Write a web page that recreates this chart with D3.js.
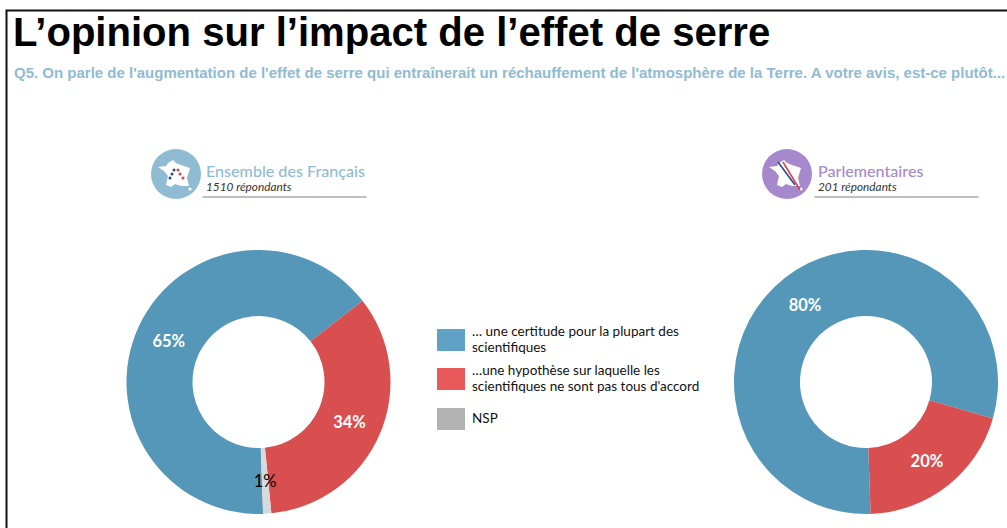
<!DOCTYPE html>
<html>
<head>
<meta charset="utf-8">
<script src="https://d3js.org/d3.v7.min.js"></script>
<style>
  body { margin: 0; background: #fff; }
  svg { display: block; }
  text { font-family: "Lato", "Open Sans", sans-serif; }
</style>
</head>
<body>
<div id="my_dataviz"></div>
<script>

var categories = ["certitude", "hypothese", "nsp"];
var francais = [65, 34, 1];
var parlementaires = [80, 20, 0];
var legendLabels = [
  ["… une certitude pour la plupart des", "scientifiques"],
  ["…une hypothèse sur laquelle les", "scientifiques ne sont pas tous d'accord"],
  ["NSP"]
];

var width = 1007, height = 528;
var sliceColor = d3.scaleOrdinal().domain(categories).range(["#5597b9", "#d94f4f", "#d9d9d9"]);
var swatchColor = d3.scaleOrdinal().domain(categories).range(["#5fa2c5", "#e85a5a", "#b2b2b2"]);
var labelColor = d3.scaleOrdinal().domain(categories).range(["#fff", "#fff", "#000"]);

var svg = d3.select("#my_dataviz")
  .append("svg")
    .attr("width", width)
    .attr("height", height);

// frame of the slide (runs off on the right and the bottom)
svg.append("path")
  .attr("d", "M6.5,528V10.5H1007")
  .attr("fill", "none")
  .attr("stroke", "#111")
  .attr("stroke-width", 2);

svg.append("text")
  .attr("x", 13).attr("y", 46)
  .style("font-family", "'Liberation Sans'")
  .style("font-weight", 700)
  .style("font-size", "40.1px")
  .attr("fill", "#000")
  .text("L’opinion sur l’impact de l’effet de serre");

svg.append("text")
  .attr("x", 14).attr("y", 78)
  .style("font-family", "'Liberation Sans'")
  .style("font-weight", 700)
  .style("font-size", "15px")
  .attr("fill", "#8fbbd3")
  .text("Q5. On parle de l'augmentation de l'effet de serre qui entraînerait un réchauffement de l'atmosphère de la Terre. A votre avis, est-ce plutôt...");

var pie = d3.pie().sort(null).startAngle(178 * Math.PI / 180).endAngle(538 * Math.PI / 180);
var arc = d3.arc().innerRadius(66).outerRadius(132);

function donut(values, cx, cy) {
  var g = svg.append("g").attr("transform", "translate(" + cx + "," + cy + ")");
  var slices = pie(values).filter(function(d) { return d.value > 0; });

  g.selectAll("path")
    .data(slices)
    .enter()
    .append("path")
    .attr("d", arc)
    .attr("fill", function(d) { return sliceColor(categories[d.index]); });

  g.selectAll("text")
    .data(slices)
    .enter()
    .append("text")
    .attr("transform", function(d) { return "translate(" + arc.centroid(d) + ")"; })
    .attr("text-anchor", "middle")
    .attr("dy", "0.4em")
    .style("font-size", "16.5px")
    .style("font-weight", function(d) { return d.index == 2 ? 400 : 700; })
    .attr("fill", function(d) { return labelColor(categories[d.index]); })
    .text(function(d) { return d.value + "%"; });
}

donut(francais, 258.5, 382);
donut(parlementaires, 866, 382);

// legend
var legendTop = [329, 368, 408];
var legend = svg.selectAll(".legendItem")
  .data(categories)
  .enter()
  .append("g")
    .attr("class", "legendItem")
    .attr("transform", function(d, i) { return "translate(437," + legendTop[i] + ")"; });

legend.append("rect")
  .attr("width", 28)
  .attr("height", 22)
  .attr("fill", function(d) { return swatchColor(d); });

legend.each(function(d, i) {
  d3.select(this).selectAll("text")
    .data(legendLabels[i])
    .enter()
    .append("text")
    .attr("x", 35)
    .attr("y", function(t, j) { return (i == 2 ? 14.5 : 6.5) + j * 16; })
    .style("font-size", "13.5px")
    .attr("fill", "#111")
    .text(function(t) { return t; });
});

// panel headers
var franceShape = "M-3,-14L0,-11L5,-9L14,-6L11,4L13,12L5,12L-1,10L-5,13L-10,11L-8,2L-12,-3L-18,-7L-10,-8L-8,-11Z";

function header(cx, color, name, count, textX, lineX) {
  var g = svg.append("g");
  g.append("circle").attr("cx", cx).attr("cy", 174).attr("r", 25).attr("fill", color);
  var map = g.append("g").attr("transform", "translate(" + cx + ",174)");
  map.append("path").attr("d", franceShape).attr("fill", "#fff");
  map.append("circle").attr("cx", 14).attr("cy", 15).attr("r", 1.6).attr("fill", "#fff");
  g.append("text").attr("x", textX).attr("y", 177)
    .style("font-size", "16.1px").style("font-weight", 500)
    .attr("fill", color).text(name);
  g.append("text").attr("x", textX).attr("y", 191)
    .style("font-size", "11.8px").style("font-style", "italic")
    .attr("fill", "#333").text(count);
  g.append("line")
    .attr("x1", lineX).attr("x2", lineX + 164)
    .attr("y1", 197).attr("y2", 197)
    .attr("stroke", "#aaa").attr("stroke-width", 1.5);
  return map;
}

var mapA = header(176, "#8fbbd3", "Ensemble des Français", "1510 répondants", 206, 202.5);
var mapB = header(787, "#a688cc", "Parlementaires", "201 répondants", 818, 814.5);

// small figures on the first map
[[-6, 4, "#2b4a8f"], [-4, 0, "#2b4a8f"], [-2, -4, "#2b4a8f"], [2, -4, "#d9434e"], [4, 0, "#d9434e"], [7, 4, "#d9434e"]].forEach(function(p) {
  mapA.append("circle").attr("cx", p[0]).attr("cy", p[1]).attr("r", 1.5).attr("fill", p[2]);
});

// tricolour stripes on the second map
mapB.append("line").attr("x1", -9).attr("y1", -12).attr("x2", 8).attr("y2", 11)
  .attr("stroke", "#2b4a8f").attr("stroke-width", 1.6);
mapB.append("line").attr("x1", -4).attr("y1", -12).attr("x2", 13).attr("y2", 16)
  .attr("stroke", "#d9434e").attr("stroke-width", 1.6);

</script>
</body>
</html>
